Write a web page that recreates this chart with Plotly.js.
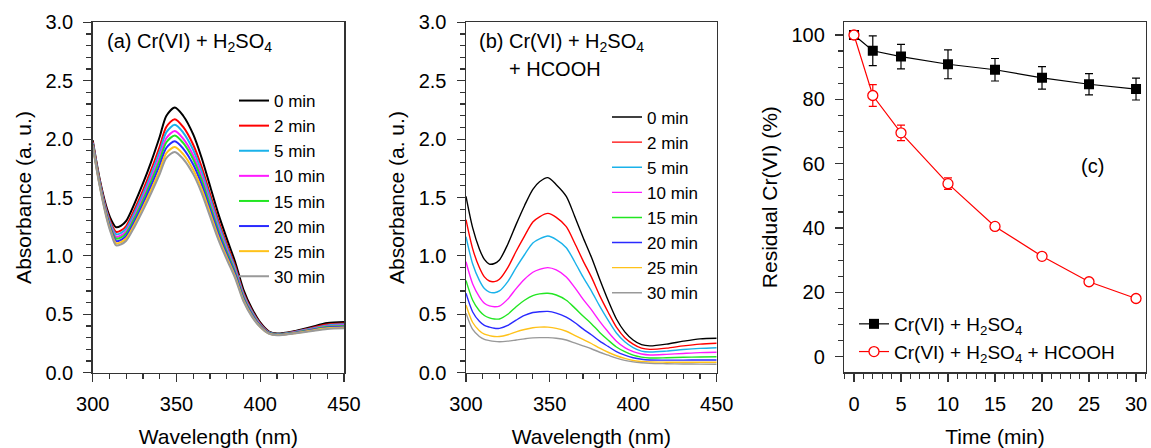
<!DOCTYPE html>
<html>
<head>
<meta charset="utf-8">
<script src="https://cdn.plot.ly/plotly-3.0.1.min.js"></script>
<style>html,body{margin:0;padding:0;background:#fff;}#chart{width:1151px;height:448px;}</style>
</head>
<body>
<div id="chart"></div>
<script>
// ---------- DATA ----------
const wavelength = [300,304,308,311,314,317,320,325,330,335,340,344,349,354,360,365,370,375,380,385,390,395,400,405,410,420,430,440,450];
const timeLabels = ["0 min","2 min","5 min","10 min","15 min","20 min","25 min","30 min"];

// (a) Cr(VI) + H2SO4
const a_0min  = [1.99,1.67,1.43,1.31,1.245,1.26,1.30,1.45,1.62,1.81,2.02,2.20,2.27,2.20,2.04,1.84,1.60,1.36,1.15,0.95,0.71,0.55,0.43,0.355,0.335,0.355,0.39,0.425,0.435];
const a_2min  = [1.977,1.654,1.407,1.279,1.205,1.218,1.256,1.398,1.560,1.740,1.937,2.106,2.171,2.104,1.952,1.762,1.532,1.303,1.103,0.914,0.684,0.532,0.420,0.350,0.331,0.350,0.381,0.412,0.421];
const a_5min  = [1.970,1.647,1.395,1.263,1.185,1.198,1.234,1.372,1.530,1.705,1.895,2.060,2.122,2.056,1.907,1.723,1.499,1.274,1.080,0.895,0.671,0.523,0.414,0.347,0.329,0.347,0.376,0.405,0.414];
const a_10min = [1.963,1.638,1.382,1.246,1.163,1.175,1.210,1.344,1.498,1.667,1.850,2.009,2.069,2.004,1.860,1.681,1.462,1.243,1.055,0.876,0.657,0.513,0.409,0.344,0.327,0.344,0.371,0.398,0.406];
const a_15min = [1.958,1.632,1.373,1.234,1.147,1.159,1.193,1.324,1.475,1.640,1.818,1.973,2.031,1.967,1.826,1.651,1.436,1.221,1.037,0.862,0.647,0.506,0.405,0.342,0.326,0.342,0.368,0.393,0.400];
const a_20min = [1.952,1.624,1.362,1.219,1.127,1.138,1.171,1.298,1.445,1.605,1.777,1.926,1.981,1.919,1.782,1.612,1.402,1.193,1.013,0.844,0.634,0.497,0.400,0.340,0.324,0.340,0.363,0.387,0.393];
const a_25min = [1.945,1.617,1.350,1.203,1.107,1.118,1.149,1.272,1.415,1.570,1.735,1.880,1.932,1.871,1.737,1.573,1.369,1.164,0.990,0.825,0.621,0.488,0.394,0.337,0.322,0.337,0.359,0.380,0.386];
const a_30min = [1.940,1.610,1.340,1.190,1.090,1.100,1.130,1.250,1.390,1.540,1.700,1.840,1.890,1.830,1.700,1.540,1.340,1.140,0.970,0.810,0.610,0.480,0.390,0.335,0.320,0.335,0.355,0.375,0.380];

// (b) Cr(VI) + H2SO4 + HCOOH
const b_0min  = [1.51,1.24,1.06,0.97,0.93,0.935,0.965,1.10,1.27,1.43,1.57,1.635,1.67,1.61,1.51,1.34,1.16,0.99,0.80,0.62,0.46,0.35,0.28,0.24,0.23,0.245,0.27,0.29,0.295];
const b_2min  = [1.31,1.06,0.90,0.82,0.785,0.78,0.80,0.90,1.04,1.17,1.29,1.335,1.364,1.33,1.25,1.11,0.96,0.82,0.66,0.52,0.39,0.30,0.245,0.21,0.20,0.21,0.23,0.245,0.252];
const b_5min  = [1.165,0.93,0.79,0.72,0.69,0.685,0.70,0.78,0.90,1.01,1.11,1.145,1.17,1.14,1.07,0.95,0.82,0.70,0.57,0.45,0.34,0.265,0.215,0.185,0.177,0.185,0.198,0.208,0.214];
const b_10min = [0.95,0.76,0.65,0.595,0.572,0.565,0.57,0.63,0.72,0.80,0.86,0.885,0.90,0.88,0.82,0.73,0.63,0.54,0.44,0.35,0.27,0.215,0.18,0.16,0.152,0.157,0.165,0.172,0.175];
const b_15min = [0.79,0.62,0.53,0.49,0.47,0.46,0.46,0.50,0.565,0.62,0.66,0.675,0.68,0.665,0.62,0.555,0.485,0.42,0.345,0.28,0.22,0.18,0.15,0.133,0.126,0.128,0.132,0.135,0.137];
const b_20min = [0.68,0.52,0.44,0.405,0.39,0.38,0.38,0.405,0.45,0.49,0.515,0.522,0.525,0.51,0.475,0.43,0.375,0.325,0.27,0.225,0.18,0.15,0.128,0.115,0.109,0.108,0.108,0.109,0.109];
const b_25min = [0.58,0.43,0.36,0.33,0.318,0.31,0.31,0.325,0.35,0.37,0.385,0.39,0.39,0.38,0.355,0.32,0.285,0.25,0.21,0.175,0.145,0.122,0.105,0.097,0.092,0.09,0.089,0.089,0.089];
const b_30min = [0.51,0.37,0.31,0.285,0.275,0.268,0.265,0.27,0.28,0.29,0.298,0.30,0.30,0.295,0.28,0.255,0.23,0.205,0.175,0.15,0.125,0.106,0.093,0.085,0.08,0.077,0.075,0.073,0.072];

// (c) Residual Cr(VI)
const time = [0,2,5,10,15,20,25,30];
const residualH2SO4 = [100,95.1,93.3,90.9,89.2,86.7,84.7,83.2];
const errorH2SO4 = [0,4.6,3.8,4.5,3.5,3.5,3.3,3.4];
const residualHCOOH = [100,81.2,69.6,53.8,40.5,31.2,23.3,18.1];
const errorHCOOH = [0,3.4,2.4,1.8,0,0,0,0];

const seriesNamesC = ["Cr(VI) + H<sub>2</sub>SO<sub>4</sub>", "Cr(VI) + H<sub>2</sub>SO<sub>4</sub> + HCOOH"];

// ---------- STYLE ----------
const colors = ["#000000","#ff0000","#1ab2ea","#ff1aff","#22e622","#2a2aff","#ffc21a","#999999"];
const FONT = "Liberation Sans, Arial, Helvetica, sans-serif";
const W = 1151, H = 448;

const seriesA = [a_0min,a_2min,a_5min,a_10min,a_15min,a_20min,a_25min,a_30min];
const seriesB = [b_0min,b_2min,b_5min,b_10min,b_15min,b_20min,b_25min,b_30min];

const traces = [];
seriesA.forEach((ys, i) => {
  traces.push({x: wavelength, y: ys, xaxis: 'x', yaxis: 'y', mode: 'lines',
    line: {color: colors[i], width: 2, shape: 'spline', smoothing: 0.8},
    name: timeLabels[i], legend: 'legend'});
});
seriesB.forEach((ys, i) => {
  traces.push({x: wavelength, y: ys, xaxis: 'x2', yaxis: 'y2', mode: 'lines',
    line: {color: colors[i], width: 1.4, shape: 'spline', smoothing: 0.8},
    name: timeLabels[i], legend: 'legend2'});
});
traces.push({x: time, y: residualH2SO4, xaxis: 'x3', yaxis: 'y3', mode: 'lines+markers',
  line: {color: '#000', width: 1.2},
  marker: {symbol: 'square', size: 10, color: '#000'},
  error_y: {type: 'data', array: errorH2SO4, visible: true, color: '#000', thickness: 1.2, width: 4},
  name: seriesNamesC[0], legend: 'legend3'});
traces.push({x: time, y: residualHCOOH, xaxis: 'x3', yaxis: 'y3', mode: 'lines+markers',
  line: {color: '#ff0000', width: 1.2},
  marker: {symbol: 'circle', size: 10, color: '#ffffff', line: {color: '#ff0000', width: 1.3}},
  error_y: {type: 'data', array: errorHCOOH, visible: true, color: '#ff0000', thickness: 1.2, width: 4},
  name: seriesNamesC[1], legend: 'legend3'});

function xAxis(domain, range, dtick, minorDtick, anchor, title) {
  return {domain: domain, range: range, anchor: anchor, dtick: dtick, tick0: 0,
    showgrid: false, zeroline: false, showline: true, linecolor: '#333', linewidth: 1.5, mirror: true,
    ticks: 'outside', ticklen: 8, tickwidth: 1.2, tickcolor: '#333', ticklabelstandoff: 5,
    minor: {dtick: minorDtick, ticks: 'outside', ticklen: 5, tickwidth: 1.2, tickcolor: '#333', showgrid: false},
    tickfont: {family: FONT, size: 20, color: '#000'},
    title: {text: title, font: {family: FONT, size: 21, color: '#000'}, standoff: 19}};
}
function yAxis(domain, range, dtick, minorDtick, anchor, title, fmt) {
  return {domain: domain, range: range, anchor: anchor, dtick: dtick, tick0: 0, tickformat: fmt,
    showgrid: false, zeroline: false, showline: true, linecolor: '#333', linewidth: 1.5, mirror: true,
    ticks: 'outside', ticklen: 8, tickwidth: 1.2, tickcolor: '#333', ticklabelstandoff: 6,
    minor: {dtick: minorDtick, ticks: 'outside', ticklen: 5, tickwidth: 1.2, tickcolor: '#333', showgrid: false},
    tickfont: {family: FONT, size: 20, color: '#000'},
    title: {text: title, font: {family: FONT, size: 21, color: '#000'}, standoff: 8}};
}

const yd = [1 - 372.7/H, 1 - 22.3/H];
const layout = {
  width: W, height: H, margin: {l: 0, r: 0, t: 0, b: 0},
  paper_bgcolor: '#fff', plot_bgcolor: '#fff',
  font: {family: FONT, color: '#000', size: 17},
  xaxis: xAxis([92.7/W, 344/W], [300, 450], 50, 10, 'y', 'Wavelength (nm)'),
  yaxis: yAxis(yd, [0, 3], 0.5, 0.1, 'x', 'Absorbance (a. u.)', '.1f'),
  xaxis2: xAxis([466/W, 716.7/W], [300, 450], 50, 10, 'y2', 'Wavelength (nm)'),
  yaxis2: yAxis(yd, [0, 3], 0.5, 0.1, 'x2', 'Absorbance (a. u.)', '.1f'),
  xaxis3: xAxis([844.3/W, 1145.7/W], [-1.03, 31.03], 5, 1, 'y3', 'Time (min)'),
  yaxis3: yAxis([1 - 372/H, 1 - 22.3/H], [-4.75, 103.95], 20, 5, 'x3', 'Residual Cr(VI) (%)', 'd'),
  legend: {x: 234/W, y: 1 - 83/H, xanchor: 'left', yanchor: 'top', bgcolor: 'rgba(0,0,0,0)',
    font: {family: FONT, size: 17, color: '#000'}, tracegroupgap: 0, borderwidth: 0},
  legend2: {x: 607/W, y: 1 - 99.5/H, xanchor: 'left', yanchor: 'top', bgcolor: 'rgba(0,0,0,0)',
    font: {family: FONT, size: 17, color: '#000'}, tracegroupgap: 0, borderwidth: 0},
  legend3: {x: 854/W, y: 1 - 305/H, xanchor: 'left', yanchor: 'top', bgcolor: 'rgba(0,0,0,0)',
    font: {family: FONT, size: 19, color: '#000'}, tracegroupgap: 0, borderwidth: 0},
  showlegend: true,
  annotations: [
    {xref: 'paper', yref: 'paper', x: 105/W, y: 1 - 42/H, xanchor: 'left', yanchor: 'middle', showarrow: false,
     text: '(a) Cr(VI) + H<sub>2</sub>SO<sub>4</sub>', font: {family: FONT, size: 20, color: '#000'}},
    {xref: 'paper', yref: 'paper', x: 477/W, y: 1 - 42/H, xanchor: 'left', yanchor: 'middle', showarrow: false,
     text: '(b) Cr(VI) + H<sub>2</sub>SO<sub>4</sub>', font: {family: FONT, size: 20, color: '#000'}},
    {xref: 'paper', yref: 'paper', x: 507/W, y: 1 - 69/H, xanchor: 'left', yanchor: 'middle', showarrow: false,
     text: '+ HCOOH', font: {family: FONT, size: 20, color: '#000'}},
    {xref: 'paper', yref: 'paper', x: 1092.7/W, y: 1 - 165.7/H, xanchor: 'center', yanchor: 'middle', showarrow: false,
     text: '(c)', font: {family: FONT, size: 20, color: '#000'}}
  ]
};

Plotly.newPlot('chart', traces, layout, {staticPlot: true, displayModeBar: false});
</script>
</body>
</html>
